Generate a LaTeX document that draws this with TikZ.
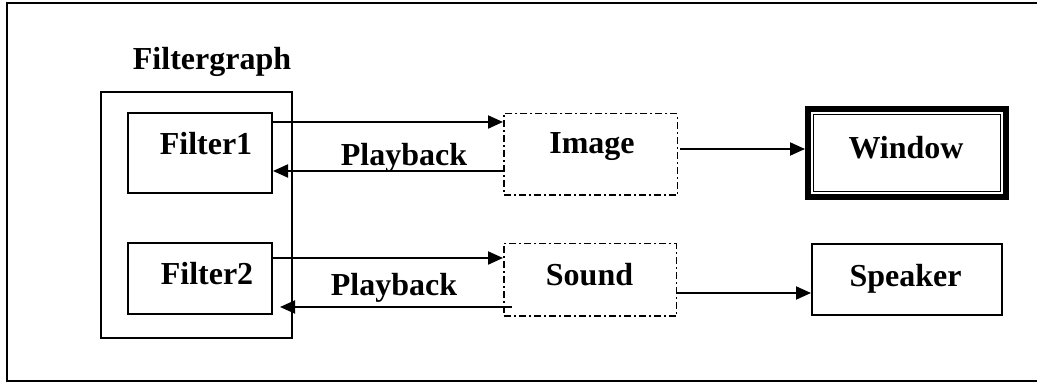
\documentclass[tikz,border=0pt]{standalone}
\usepackage{fontspec}
\setmainfont{Liberation Serif}
\usetikzlibrary{arrows.meta}

\begin{document}
\begin{tikzpicture}[x=0.5pt,y=-0.5pt]
  \tikzstyle{LabelStyle}=[inner sep=0pt,font=\fontsize{16}{19}\selectfont\bfseries]
  \tikzstyle{EdgeStyle}=[line width=1pt,-{Triangle[length=7.5pt,width=6.5pt]}]
  \tikzset{BoxStyle/.style = {draw=black,shape=rectangle,line width=1pt,inner sep=0pt}}
  \tikzset{DashBoxStyle/.style = {draw=black,shape=rectangle,line width=0.75pt,inner sep=0pt,
      dash pattern=on 3.5pt off 1.5pt on 1pt off 1.5pt}}
  \useasboundingbox (0,0) rectangle (1037,383);
  % frame (right side runs off the page)
  \draw [line width=1pt] (1037,3) -- (7,3) -- (7,381) -- (1037,381);
  % filter graph
  \node[BoxStyle,minimum width=95.5pt,minimum height=123pt] (fg) at (196.5,215) {};
  \node[LabelStyle] (fg_l) at (212,62) {Filtergraph};
  \node[BoxStyle,minimum width=72pt,minimum height=40pt] (f1) at (200,153) {};
  \node[LabelStyle] (f1_l) at (206,144) {Filter1};
  \node[BoxStyle,minimum width=72pt,minimum height=35.5pt] (f2) at (200,278.5) {};
  \node[LabelStyle] (f2_l) at (207,274) {Filter2};
  % renderers
  \node[DashBoxStyle,minimum width=86.75pt,minimum height=40.75pt] (img) at (590.5,154.5) {};
  \node[LabelStyle] (img_l) at (592,147) {Image};
  \node[DashBoxStyle,minimum width=86.25pt,minimum height=36.25pt] (snd) at (590,280) {};
  \node[LabelStyle] (snd_l) at (589.5,275) {Sound};
  % outputs
  \node[BoxStyle,line width=3pt,minimum width=99pt,minimum height=44pt] (win) at (907,153) {};
  \node[BoxStyle,line width=0.6pt,minimum width=93.5pt,minimum height=38.5pt] (win_in) at (907,153) {};
  \node[LabelStyle] (win_l) at (906,148) {Window};
  \node[BoxStyle,minimum width=95pt,minimum height=35.5pt] (spk) at (907,279.5) {};
  \node[LabelStyle] (spk_l) at (905.5,278.5) {Speaker};
  % edges TOP
  \coordinate (f1_o) at ([yshift=15.5pt]f1.east);
  \coordinate (f1_b) at ([yshift=-9pt]f1.east);
  \draw[EdgeStyle] (f1_o) -- (f1_o -| img.west);
  \draw[EdgeStyle] (f1_b -| img.west) -- (f1_b);
  \node[LabelStyle] (pb_1) at (404,157.5) {Playback};
  \coordinate (img_o) at ([yshift=2.75pt]img.east);
  \draw[EdgeStyle,shorten <=1pt] (img_o) -- (img_o -| win.west);
  % edges BOT
  \coordinate (f2_o) at ([yshift=10.25pt]f2.east);
  \coordinate (f2_b) at ([yshift=-14.25pt]f2.east);
  \draw[EdgeStyle] (f2_o) -- (f2_o -| snd.west);
  \draw[EdgeStyle,shorten <=-4.5pt,shorten >=3.5pt] (f2_b -| snd.west) -- (f2_b);
  \node[LabelStyle] (pb_2) at (394,287.5) {Playback};
  \coordinate (snd_o) at ([yshift=-6.5pt]snd.east);
  \draw[EdgeStyle] (snd_o) -- (snd_o -| spk.west);
\end{tikzpicture}
\end{document}
